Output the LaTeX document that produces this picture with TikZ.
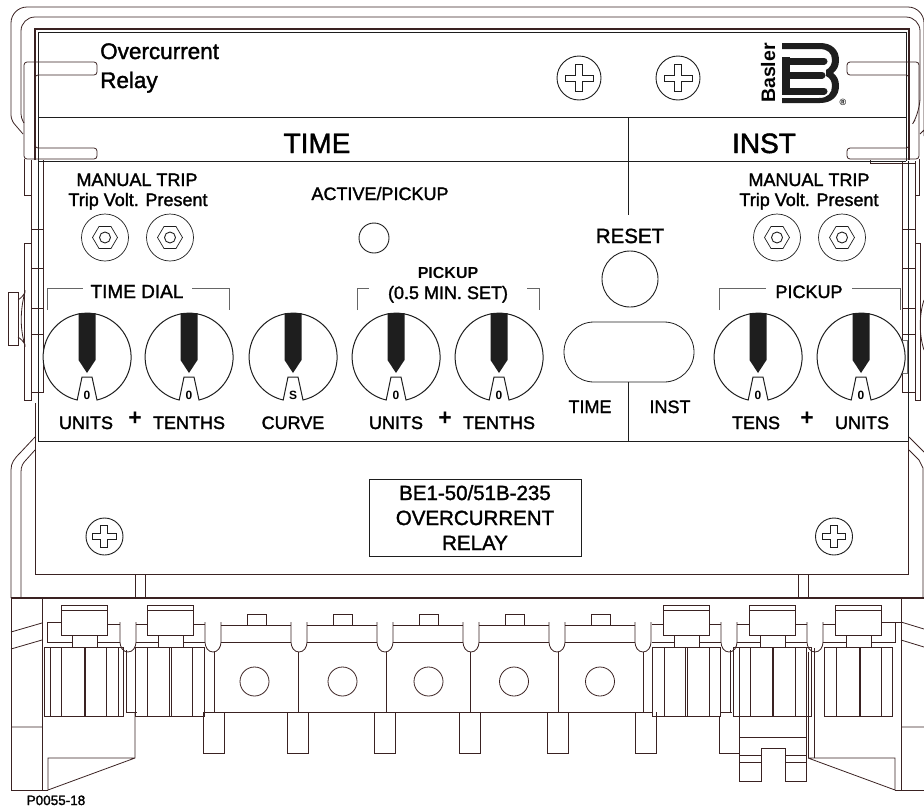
\documentclass[tikz,border=0pt]{standalone}
\usepackage{fontspec}
\usepackage{tikz}
\setmainfont{Liberation Sans}
\newfontfamily\labelfont{Liberation Sans}[FakeBold=1.6]
\newfontfamily\heavyfont{Liberation Sans}
\definecolor{shellc}{HTML}{3A2222}
\definecolor{panelc}{HTML}{1E1E1E}

\begin{document}
\begin{tikzpicture}[x=1pt,y=-1pt,line join=miter]
	\tikzset{shell/.style={draw=shellc,line width=0.8pt}}
	\tikzset{panel/.style={draw=panelc,line width=0.9pt}}
	\tikzset{brack/.style={draw=black!60,line width=0.9pt}}
	\tikzset{lbl/.style={font=\labelfont\fontsize{18}{18}\selectfont,anchor=base,inner sep=0pt,text=black}}
	\tikzset{biglbl/.style={lbl,font=\labelfont\fontsize{28}{28}\selectfont}}
	\tikzset{midlbl/.style={lbl,font=\labelfont\fontsize{20.5}{20.5}\selectfont}}
	\tikzset{plus/.style={lbl,font=\heavyfont\bfseries\fontsize{23}{23}\selectfont}}
	\tikzset{dialmark/.style={font=\heavyfont\bfseries\fontsize{12}{12}\selectfont,anchor=base,inner sep=0pt}}
	\tikzset{knob/.pic={
		\draw[panel,fill=white,line width=1pt] (10,43) arc[start angle=283,end angle=617,radius=44pt] -- (-5,20) -- (5,20) -- cycle;
		\fill[panelc] (-8.5,-44) -- (8.5,-44) -- (8.5,3) -- (0,16) -- (-8.5,3) -- cycle;
		\node[dialmark] at (0,42) {#1};
	}}
	\tikzset{screw/.pic={
		\draw[panel] (0,0) circle[radius=#1pt];
		\draw[panel,line width=0.7pt] (-4,-3) -- (-4,-.6*#1) -- (3,-.6*#1) -- (3,-3) -- (.63*#1,-3) -- (.63*#1,3) -- (3,3) -- (3,.6*#1) -- (-4,.6*#1) -- (-4,3) -- (-.63*#1,3) -- (-.63*#1,-3) -- cycle;
	}}
	\tikzset{hexbtn/.pic={
		\draw[panel,line width=0.7pt] (0,0) circle[radius=23.5pt];
		\draw[panel,line width=0.7pt] (-12.5,0) -- (-6,-11) -- (6,-11) -- (12.5,0) -- (6,11) -- (-6,11) -- cycle;
		\draw[panel] (0,0) circle[radius=5.5pt];
	}}
	\tikzset{termtop/.pic={
		\draw[shell] (0,0) rectangle (46,30);
		\draw[shell] (0,5) -- (46,5);
		\draw[shell] (11,30) -- (11,42) (36,30) -- (36,42);
	}}
	\useasboundingbox (0,0) rectangle (924,809);

	% housing
	\draw[shell] (23,134) [rounded corners=5pt] -- (11,120) [rounded corners=16pt] -- (11,7) -- (924,7) -- (924,120) [rounded corners=0pt] -- (924,130) -- (920,134);
	\draw[shell] (24,123) [rounded corners=4pt] -- (21,118) [rounded corners=14pt] -- (21,17) -- (920,17) -- (920,112) [rounded corners=0pt] -- (915,120);
	\draw[shell,line width=1.2pt] (35,160) -- (35,29) -- (909,29) -- (909,160);
	\draw[panel] (38,441) -- (38,32) -- (906,32) -- (906,161);
	\draw[shell,rounded corners=3pt] (97,62) -- (24,62) -- (24,159) -- (97,159) -- (97,148) -- (35,148) -- (35,75) -- (97,75) -- cycle;
	\draw[shell,rounded corners=3pt] (847,62) -- (919,62) -- (919,159) -- (847,159) -- (847,148) -- (909,148) -- (909,75) -- (847,75) -- cycle;

	% hinge strips
	\draw[shell] (24,159) -- (24,195) -- (31,195);
	\draw[shell] (31,160) -- (31,392) -- (43,392) -- (43,160);
	\draw[shell] (24,243) rectangle (31,400);
	\draw[shell] (8,292) rectangle (18,345);
	\draw[shell] (18,300) .. controls (25,295) and (25,292) .. (25,290) (18,337) .. controls (25,342) and (25,345) .. (25,347) (25,292) .. controls (20,310) and (20,330) .. (25,345);
	\draw[shell] (902,161) -- (902,392) -- (915,392) -- (915,161);
	\draw[shell] (915,243) rectangle (920,400);
	\draw[shell] (870,160) -- (870,163) -- (915,163) (919,159) -- (919,195) -- (915,195);
	\draw[shell] (924,300) .. controls (919,315) and (919,335) .. (924,350);
	\foreach \y in {229,268,308,334} {
		\draw[shell] (31,\y) -- (43,\y);
		\draw[shell] (902,\y) -- (915,\y);
	}
	\draw[draw=black!55,line width=0.9pt,fill=white] (902,340) rectangle (907,373);

	% panel lines
	\draw[panel,line width=0.8pt] (38,117) -- (906,117);
	\draw[panel] (38,161) -- (906,161);
	\draw[panel] (38,441) -- (908,441) -- (908,161);
	\draw[panel] (628,117) -- (628,215);
	\draw[panel] (628,382) -- (628,441);
	\draw[panel,line width=0.8pt] (594,322) -- (664,322) arc[start angle=90,end angle=-90,radius=30pt] -- (594,382) arc[start angle=270,end angle=90,radius=30pt] -- cycle;
	\draw[panel] (630,279) circle[radius=28pt];
	\draw[panel] (374,238) circle[radius=15pt];
	\pic at (579,78) {screw=22};
	\pic at (678,78) {screw=22};
	\pic at (104.5,536.5) {screw=18.5};
	\pic at (834,536.5) {screw=18.5};
	\foreach \x in {105,170,777,842} {
		\pic at (\x,237.5) {hexbtn};
	}

	% brackets
	\draw[brack] (47,310) -- (47,288) -- (83,288);
	\draw[brack] (192,288) -- (229,288) -- (229,310);
	\draw[brack] (357,310) -- (357,288) -- (369,288);
	\draw[brack] (527,288) -- (539,288) -- (539,310);
	\draw[brack] (719,310) -- (719,288) -- (766,288);
	\draw[brack] (852,288) -- (900,288) -- (900,310);

	% dials
	\foreach \x/\m in {87/0,189/0,293/S,396/0,499/0,758/0,861/0} {
		\pic at (\x,357) {knob=\m};
	}

	% logo
	\fill[panelc] (782,43) -- (820,43) .. controls (832,43) and (839,50) .. (839,60) .. controls (839,66) and (837,70) .. (833,73) .. controls (837,76) and (839,80) .. (839,86) .. controls (839,96) and (832,103) .. (820,103) -- (782,103) -- (782,98) -- (819,98) .. controls (828,98) and (832,93) .. (832,86) .. controls (832,81) and (830,78) .. (826,76) -- (826,70) .. controls (830,68) and (832,64) .. (832,60) .. controls (832,53) and (828,49) .. (819,49) -- (782,49) -- cycle;
	\draw[panelc,line width=7pt,line cap=round] (786,61) -- (824,61) (786,75) -- (822,75) (786,91) -- (824,91);
	\fill[panelc] (782,57) rectangle (790,95);
	\node[lbl,font=\heavyfont\bfseries\fontsize{19.5}{19.5}\selectfont,rotate=90,anchor=base] (basler) at (775,73) {Basler};
	\node[dialmark,font=\heavyfont\bfseries\fontsize{9}{9}\selectfont] (regmark) at (843,105) {\textregistered};

	% texts
	\node[lbl,font=\labelfont\fontsize{22.5}{22.5}\selectfont,anchor=base west] (overcur) at (100,59) {Overcurrent};
	\node[lbl,font=\labelfont\fontsize{22.5}{22.5}\selectfont,anchor=base west] (relay) at (100,88) {Relay};
	\node[biglbl] (timehead) at (317,153) {TIME};
	\node[biglbl] (insthead) at (764,153) {INST};
	\node[lbl] (tripa) at (137,186) {MANUAL TRIP};
	\node[lbl] (voltsa) at (138,206) {Trip Volt. Present};
	\node[lbl] (tripb) at (809,186) {MANUAL TRIP};
	\node[lbl] (voltsb) at (809,206) {Trip Volt. Present};
	\node[lbl] (active) at (380,200) {ACTIVE/PICKUP};
	\node[midlbl] (reset) at (630,243) {RESET};
	\node[lbl,font=\labelfont\fontsize{19}{19}\selectfont] (timedial) at (137,298) {TIME DIAL};
	\node[lbl,font=\heavyfont\bfseries\fontsize{16}{16}\selectfont] (pickupa) at (448,278) {PICKUP};
	\node[lbl] (minset) at (448,299) {(0.5 MIN. SET)};
	\node[lbl] (pickupb) at (809,298) {PICKUP};
	\node[lbl] (unitsa) at (86,429) {UNITS};
	\node[lbl] (tenthsa) at (189,429) {TENTHS};
	\node[lbl] (curve) at (293,429) {CURVE};
	\node[lbl] (unitsb) at (396,429) {UNITS};
	\node[lbl] (tenthsb) at (499,429) {TENTHS};
	\node[lbl] (timesel) at (590,413) {TIME};
	\node[lbl] (instsel) at (670,413) {INST};
	\node[lbl] (tens) at (756,429) {TENS};
	\node[lbl] (unitsc) at (862,429) {UNITS};
	\node[plus] (plusa) at (135,425) {+};
	\node[plus] (plusb) at (445,425) {+};
	\node[plus] (plusc) at (807,425) {+};
	\node[draw=panelc,line width=0.9pt,minimum width=212pt,minimum height=77pt,inner sep=0pt] (namebox) at (475,517.5) {};
	\node[midlbl] (modela) at (475,500) {BE1-50/51B-235};
	\node[midlbl] (modelb) at (475,525) {OVERCURRENT};
	\node[midlbl] (modelc) at (475,550) {RELAY};
	\node[lbl,font=\labelfont\fontsize{13.5}{13.5}\selectfont] (figno) at (56,805) {P0055-18};

	% lower housing
	\draw[shell] (35,403) -- (35,574) -- (908,574) -- (908,441);
	\draw[shell] (35,437) -- (20,453) .. controls (14,459) and (11,463) .. (11,470) -- (11,598);
	\draw[shell] (35,450) -- (26,460) .. controls (23,463) and (21,466) .. (21,472) -- (21,598);
	\draw[shell] (909,437) -- (924,452);
	\draw[shell] (909,450) -- (919,460) -- (923,468) -- (923,598);
	\draw[shell] (135,574) -- (135,598) (145,574) -- (145,598);
	\draw[shell] (798,574) -- (798,598) (808,574) -- (808,598);
	\draw[shell,line width=1.3pt] (11,598) -- (924,598);

	% terminal block
	\draw[shell] (42,598) -- (42,790) (11,598) -- (11,790) -- (48,790);
	\draw[shell] (11,727) -- (42,727) (11,632) -- (42,623) (11,649) -- (42,640);
	\draw[shell] (48,790) -- (48,758) -- (135,758) -- (135,712) (135,758) -- (48,790);
	\draw[shell] (901,598) -- (901,790) (895,790) -- (924,790);
	\draw[shell] (901,727) -- (924,727) (901,622) -- (924,629) (901,640) -- (924,647);
	\draw[shell] (895,790) -- (895,758) -- (808,758) (895,790) -- (808,758);
	\draw[shell] (808,652) -- (808,758) (814,648) -- (814,758);
	\foreach \x in {61,147,663,749,835} {
		\pic at (\x,605) {termtop};
	}
	\foreach \xa/\xb/\vs in {44/123/{50,61.5,84,85.5,106.5,118},135/204/{147.5,169,171,192.5},652/720/{664,685,687,709},733/811/{739,750,772,773,795,806},824/892/{836,859,860,881}} {
		\draw[shell] (\xa,647) rectangle (\xb,716);
		\foreach \v in \vs {
			\draw[shell] (\v,647) -- (\v,716);
		}
	}
	\foreach \x in {120,205,291,377,463,549,635,721,807} {
		\draw[shell] (\x,622) -- (\x,642) to[out=-90,in=180] (\x+8,652) to[out=0,in=-90] (\x+16,642) -- (\x+16,622);
	}
	% shoulders
	\draw[shell] (47,622) -- (61,622) (47,622) -- (47,642) -- (72,642) (97,642) -- (120,642) (107,624) -- (120,624);
	\draw[shell] (136,624) -- (147,624) (193,624) -- (205,624) (136,642) -- (158,642) (183,642) -- (205,642);
	\draw[shell] (652,624) -- (663,624) (709,624) -- (721,624) (652,642) -- (674,642) (699,642) -- (721,642);
	\draw[shell] (737,624) -- (749,624) (795,624) -- (807,624) (737,642) -- (760,642) (785,642) -- (807,642);
	\draw[shell] (823,624) -- (835,624) (881,622) -- (901,622) (823,642) -- (846,642) (871,642) -- (895,642) -- (895,622);
	% plates
	\draw[shell] (221,625) -- (291,625) (307,625) -- (377,625) (393,625) -- (463,625) (479,625) -- (549,625) (565,625) -- (635,625);
	\draw[shell] (221,642) -- (291,642) (307,642) -- (377,642) (393,642) -- (463,642) (479,642) -- (549,642) (565,642) -- (635,642);
	\draw[shell] (204,712) -- (652,712);
	\foreach \x in {214,298.5,386,470,558,643} {
		\draw[shell] (\x,652) -- (\x,712);
	}
	\foreach \x in {254.5,342.5,428.5,514,600} {
		\draw[shell] (\x,681.5) circle[radius=14.5pt];
	}
	\foreach \x in {247,333,419,505,591} {
		\draw[shell] (\x,625) -- (\x,614) -- (\x+19,614) -- (\x+19,625);
	}
	\foreach \x in {203,287,374.5,459,547,635} {
		\draw[shell] (\x,712) -- (\x,753) -- (\x+21,753) -- (\x+21,712);
	}
	\draw[shell] (126,650) -- (126,712) -- (137,712);
	\draw[shell] (721,712) -- (732,712) (730,650) -- (730,712);
	% centre leg
	\draw[shell] (719,716) -- (719,753) -- (739,753);
	\draw[shell] (739,716) -- (739,781) -- (761,781) -- (761,748) -- (785,748) -- (785,781) -- (806,781) -- (806,716);
	\draw[shell] (739,737) -- (806,737);
	\draw[shell] (739,755) -- (761,755) (785,755) -- (806,755);
	\draw[shell] (739,762) -- (761,762) (785,762) -- (806,762);
\end{tikzpicture}
\end{document}
